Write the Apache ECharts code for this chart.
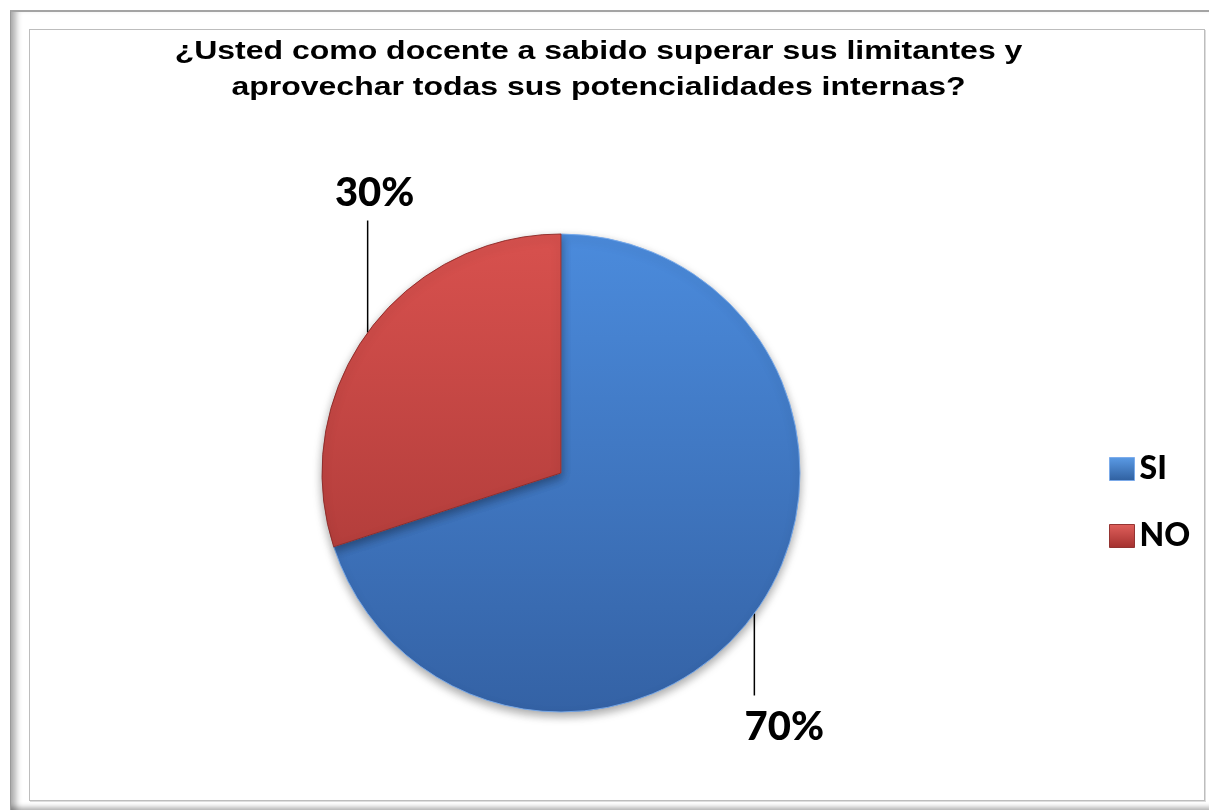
<!DOCTYPE html>
<html>
<head>
<meta charset="utf-8">
<script src="https://cdn.jsdelivr.net/npm/echarts@6/dist/echarts.min.js"></script>
<style>
  html, body { margin: 0; padding: 0; background: #ffffff; overflow: hidden; }
  #frame-outer {
    position: absolute; left: 10px; top: 10px; width: 1220px; height: 798px;
    border-top: 2px solid #a4a4a4; border-left: 1px solid #9a9a9a;
    box-shadow: inset 9px 0 6px -4px rgba(0,0,0,0.32), inset 0 -6px 5px -3px rgba(0,0,0,0.28);
  }
  #frame-inner {
    position: absolute; left: 29px; top: 29px; width: 1174px; height: 770px;
    border: 1px solid #bdbdbd; box-shadow: 1px 1px 0 #dddddd; background: #ffffff;
  }
  #chart { position: absolute; left: 0; top: 0; width: 1209px; height: 812px; }
</style>
</head>
<body>
<div id="frame-outer"></div>
<div id="frame-inner"></div>
<div id="chart"></div>
<script>
// Survey answers (percent of teachers)
const categories = ['SI', 'NO'];
const values = [70, 30];
const titleLines = [
  '¿Usted como docente a sabido superar sus limitantes y',
  'aprovechar todas sus potencialidades internas?'
];

const pieCenter = [561, 473];
const pieRadius = 239;
const pieTop = pieCenter[1] - pieRadius, pieBottom = pieCenter[1] + pieRadius;

function vGrad(c0, c1) {
  return new echarts.graphic.LinearGradient(0, pieTop, 0, pieBottom, [
    { offset: 0, color: c0 },
    { offset: 1, color: c1 }
  ], true);
}
const sliceColors = [vGrad('#4b8bdc', '#3462a5'), vGrad('#d8514e', '#a13432')];
const sliceBorders = ['rgba(120,170,235,0.9)', 'rgba(140,40,38,0.9)'];

// legend swatches: small bevel-like gradient per swatch
function swatch(c0, c1) {
  return new echarts.graphic.LinearGradient(0, 0, 0, 1, [
    { offset: 0, color: c0 },
    { offset: 1, color: c1 }
  ]);
}
const swatchColors = [swatch('#5b9be6', '#2f5f9f'), swatch('#e0605c', '#a3302e')];

const chart = echarts.init(document.getElementById('chart'), null, { renderer: 'canvas' });

const titleFont = 'bold 26px "Liberation Sans", Arial, sans-serif';
const titleY = [52, 88];

chart.setOption({
  backgroundColor: 'transparent',
  animation: false,
  graphic: titleLines.map((t, i) => ({
    type: 'text',
    x: 598.5,
    y: titleY[i],
    scaleX: 1.23,
    style: {
      text: t,
      font: titleFont,
      fill: '#000000',
      textAlign: 'center',
      textVerticalAlign: 'middle'
    }
  })),
  legend: {
    orient: 'vertical',
    left: 1104,
    top: 448,
    itemWidth: 25,
    itemHeight: 23,
    itemGap: 35,
    icon: 'rect',
    data: categories.map((name, i) => ({
      name: name,
      itemStyle: { color: swatchColors[i], borderColor: sliceBorders[i], borderWidth: 1 }
    })),
    textStyle: {
      fontFamily: 'Lato, "Open Sans", sans-serif',
      fontWeight: 900,
      fontSize: 32,
      lineHeight: 32,
      color: '#000000',
      padding: [0, 0, 0, 0]
    }
  },
  series: [{
    type: 'pie',
    center: pieCenter,
    radius: pieRadius,
    startAngle: 90,
    clockwise: true,
    data: categories.map((name, i) => ({
      name: name,
      value: values[i],
      itemStyle: {
        color: sliceColors[i],
        borderColor: sliceBorders[i],
        borderWidth: 1
      }
    })),
    itemStyle: {
      shadowBlur: 10,
      shadowOffsetY: 4,
      shadowColor: 'rgba(0,0,0,0.35)'
    },
    emphasis: { disabled: true },
    label: {
      show: true,
      position: 'outside',
      formatter: '{c}%',
      fontFamily: 'Lato, "Open Sans", sans-serif',
      fontWeight: 900,
      fontSize: 40,
      color: '#000000'
    },
    labelLine: {
      show: true,
      length: 20,
      length2: 10,
      lineStyle: { color: '#000000', width: 1.5 }
    },
    labelLayout: function (p) {
      const pts = p.labelLinePoints;
      if (!pts) return {};
      const a = pts[0];
      if (a[1] < pieCenter[1]) {
        // upper slice: leader goes straight up, label above it
        const yEnd = a[1] - 112;
        return {
          x: a[0] + 7, y: yEnd - 27,
          align: 'center', verticalAlign: 'middle',
          labelLinePoints: [[a[0], a[1]], [a[0], yEnd], [a[0], yEnd]]
        };
      }
      // lower slice: leader goes straight down, label below it
      const yEnd = a[1] + 82;
      return {
        x: a[0] + 30, y: yEnd + 32,
        align: 'center', verticalAlign: 'middle',
        labelLinePoints: [[a[0], a[1]], [a[0], yEnd], [a[0], yEnd]]
      };
    }
  }]
});
</script>
</body>
</html>
